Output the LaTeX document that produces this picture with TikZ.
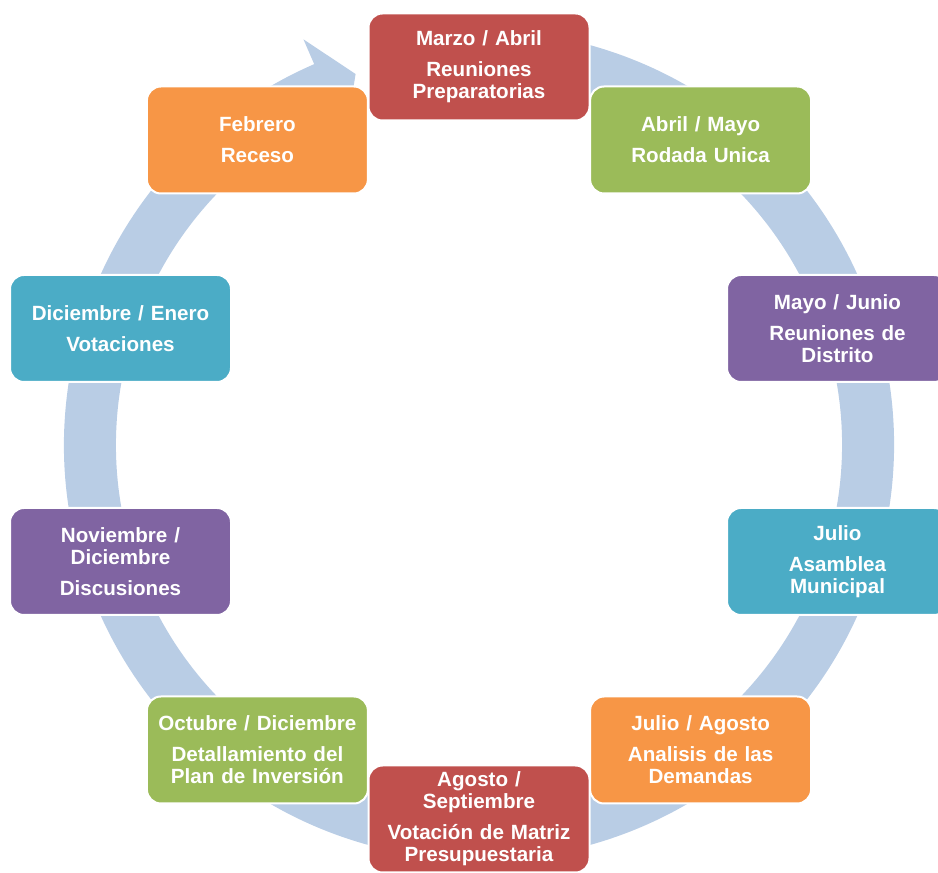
\documentclass[tikz,border=0pt]{standalone}
\usepackage{fontspec}
\setmainfont{Liberation Sans}
\usetikzlibrary{calc}
\definecolor{ringblue}{HTML}{B9CDE5}
\definecolor{cred}{HTML}{C0504D}
\definecolor{cgreen}{HTML}{9BBB59}
\definecolor{cpurple}{HTML}{8064A2}
\definecolor{cteal}{HTML}{4BACC6}
\definecolor{corange}{HTML}{F79646}
\tikzset{
  stage/.style={rectangle, rounded corners=14pt, draw=white, line width=2pt,
    fill=#1, minimum width=221pt, minimum height=107pt, inner sep=0pt,
    text=white, align=center, text width=217pt,
    font=\fontsize{20.6}{22}\selectfont\bfseries}
}
\begin{document}
\begin{tikzpicture}[x=1pt,y=1pt]
\useasboundingbox (0,0) rectangle (938,873);
\clip (0,0) rectangle (938,873);
\coordinate (C) at (479,428);
% cycle arrow
\fill[ringblue] ($(C)+(78:415pt)$) arc[start angle=78, end angle=-246.6, radius=415pt]
  -- ($(C)+(113.4:442pt)$) -- ($(C)+(108.4:391pt)$) -- ($(C)+(113.4:336pt)$)
  -- ($(C)+(113.4:363pt)$) arc[start angle=-246.6, end angle=78, radius=363pt] -- cycle;
% stages
\node[stage=cred]    (b1)  at (479,806)   {Marzo / Abril\\[9pt]Reuniones\\Preparatorias};
\node[stage=cgreen]  (b2)  at (700.6,733) {Abril / Mayo\\[9pt]Rodada Unica};
\node[stage=cpurple] (b3)  at (837.5,544.5) {Mayo / Junio\\[9pt]Reuniones de\\Distrito};
\node[stage=cteal]   (b4)  at (837.5,311.5) {Julio\\[9pt]Asamblea\\Municipal};
\node[stage=corange] (b5)  at (700.6,123) {Julio / Agosto\\[9pt]Analisis de las\\Demandas};
\node[stage=cred]    (b6)  at (479,54)    {Agosto /\\Septiembre\\[9pt]Votación de Matriz\\Presupuestaria};
\node[stage=cgreen]  (b7)  at (257.4,123) {Octubre / Diciembre\\[9pt]Detallamiento del\\Plan de Inversión};
\node[stage=cpurple] (b8)  at (120.5,311.5) {Noviembre /\\Diciembre\\[9pt]Discusiones};
\node[stage=cteal]   (b9)  at (120.5,544.5) {Diciembre / Enero\\[9pt]Votaciones};
\node[stage=corange] (b10) at (257.4,733) {Febrero\\[9pt]Receso};
\end{tikzpicture}
\end{document}
